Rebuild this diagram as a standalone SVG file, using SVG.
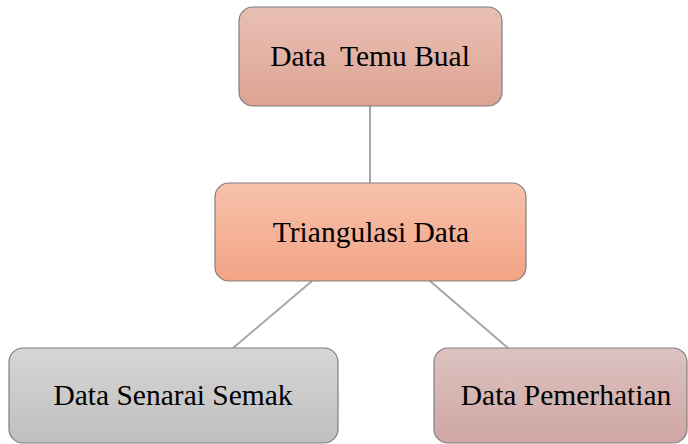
<svg xmlns="http://www.w3.org/2000/svg" width="688" height="444" viewBox="0 0 688 444">
<defs>
<linearGradient id="gTop" x1="0" y1="0" x2="0" y2="1"><stop offset="0" stop-color="#e9c0b5"/><stop offset="1" stop-color="#dda392"/></linearGradient>
<linearGradient id="gMid" x1="0" y1="0" x2="0" y2="1"><stop offset="0" stop-color="#f7c2ab"/><stop offset="1" stop-color="#f3a385"/></linearGradient>
<linearGradient id="gLeft" x1="0" y1="0" x2="0" y2="1"><stop offset="0" stop-color="#d6d6d6"/><stop offset="1" stop-color="#bfbfbf"/></linearGradient>
<linearGradient id="gRight" x1="0" y1="0" x2="0" y2="1"><stop offset="0" stop-color="#dcc3c0"/><stop offset="1" stop-color="#cfa6a3"/></linearGradient>
</defs>
<style>
.box{stroke:#7f7f7f;stroke-width:1.2}
.lbl{font-family:"Liberation Serif","Times New Roman",serif;font-size:29.5px;fill:#000;text-anchor:middle}
.con{stroke:#a6a6a6;stroke-width:2;fill:none}
</style>
<g id="connectors">
<line class="con" x1="370" y1="106" x2="370" y2="183"/>
<line class="con" x1="312" y1="281" x2="233" y2="348"/>
<line class="con" x1="430" y1="281" x2="508" y2="348"/>
</g>
<g id="node-temu-bual">
<rect class="box" x="239" y="7" width="263" height="99" rx="14" fill="url(#gTop)"/>
<text class="lbl" x="370" y="66" xml:space="preserve">Data  Temu Bual</text>
</g>
<g id="node-triangulasi">
<rect class="box" x="215" y="183" width="311" height="98" rx="14" fill="url(#gMid)"/>
<text class="lbl" x="371" y="242">Triangulasi Data</text>
</g>
<g id="node-senarai-semak">
<rect class="box" x="9" y="348" width="329" height="95" rx="14" fill="url(#gLeft)"/>
<text class="lbl" x="173" y="405">Data Senarai Semak</text>
</g>
<g id="node-pemerhatian">
<rect class="box" x="434" y="348" width="253" height="95" rx="14" fill="url(#gRight)"/>
<text class="lbl" x="566" y="405">Data Pemerhatian</text>
</g>
</svg>
